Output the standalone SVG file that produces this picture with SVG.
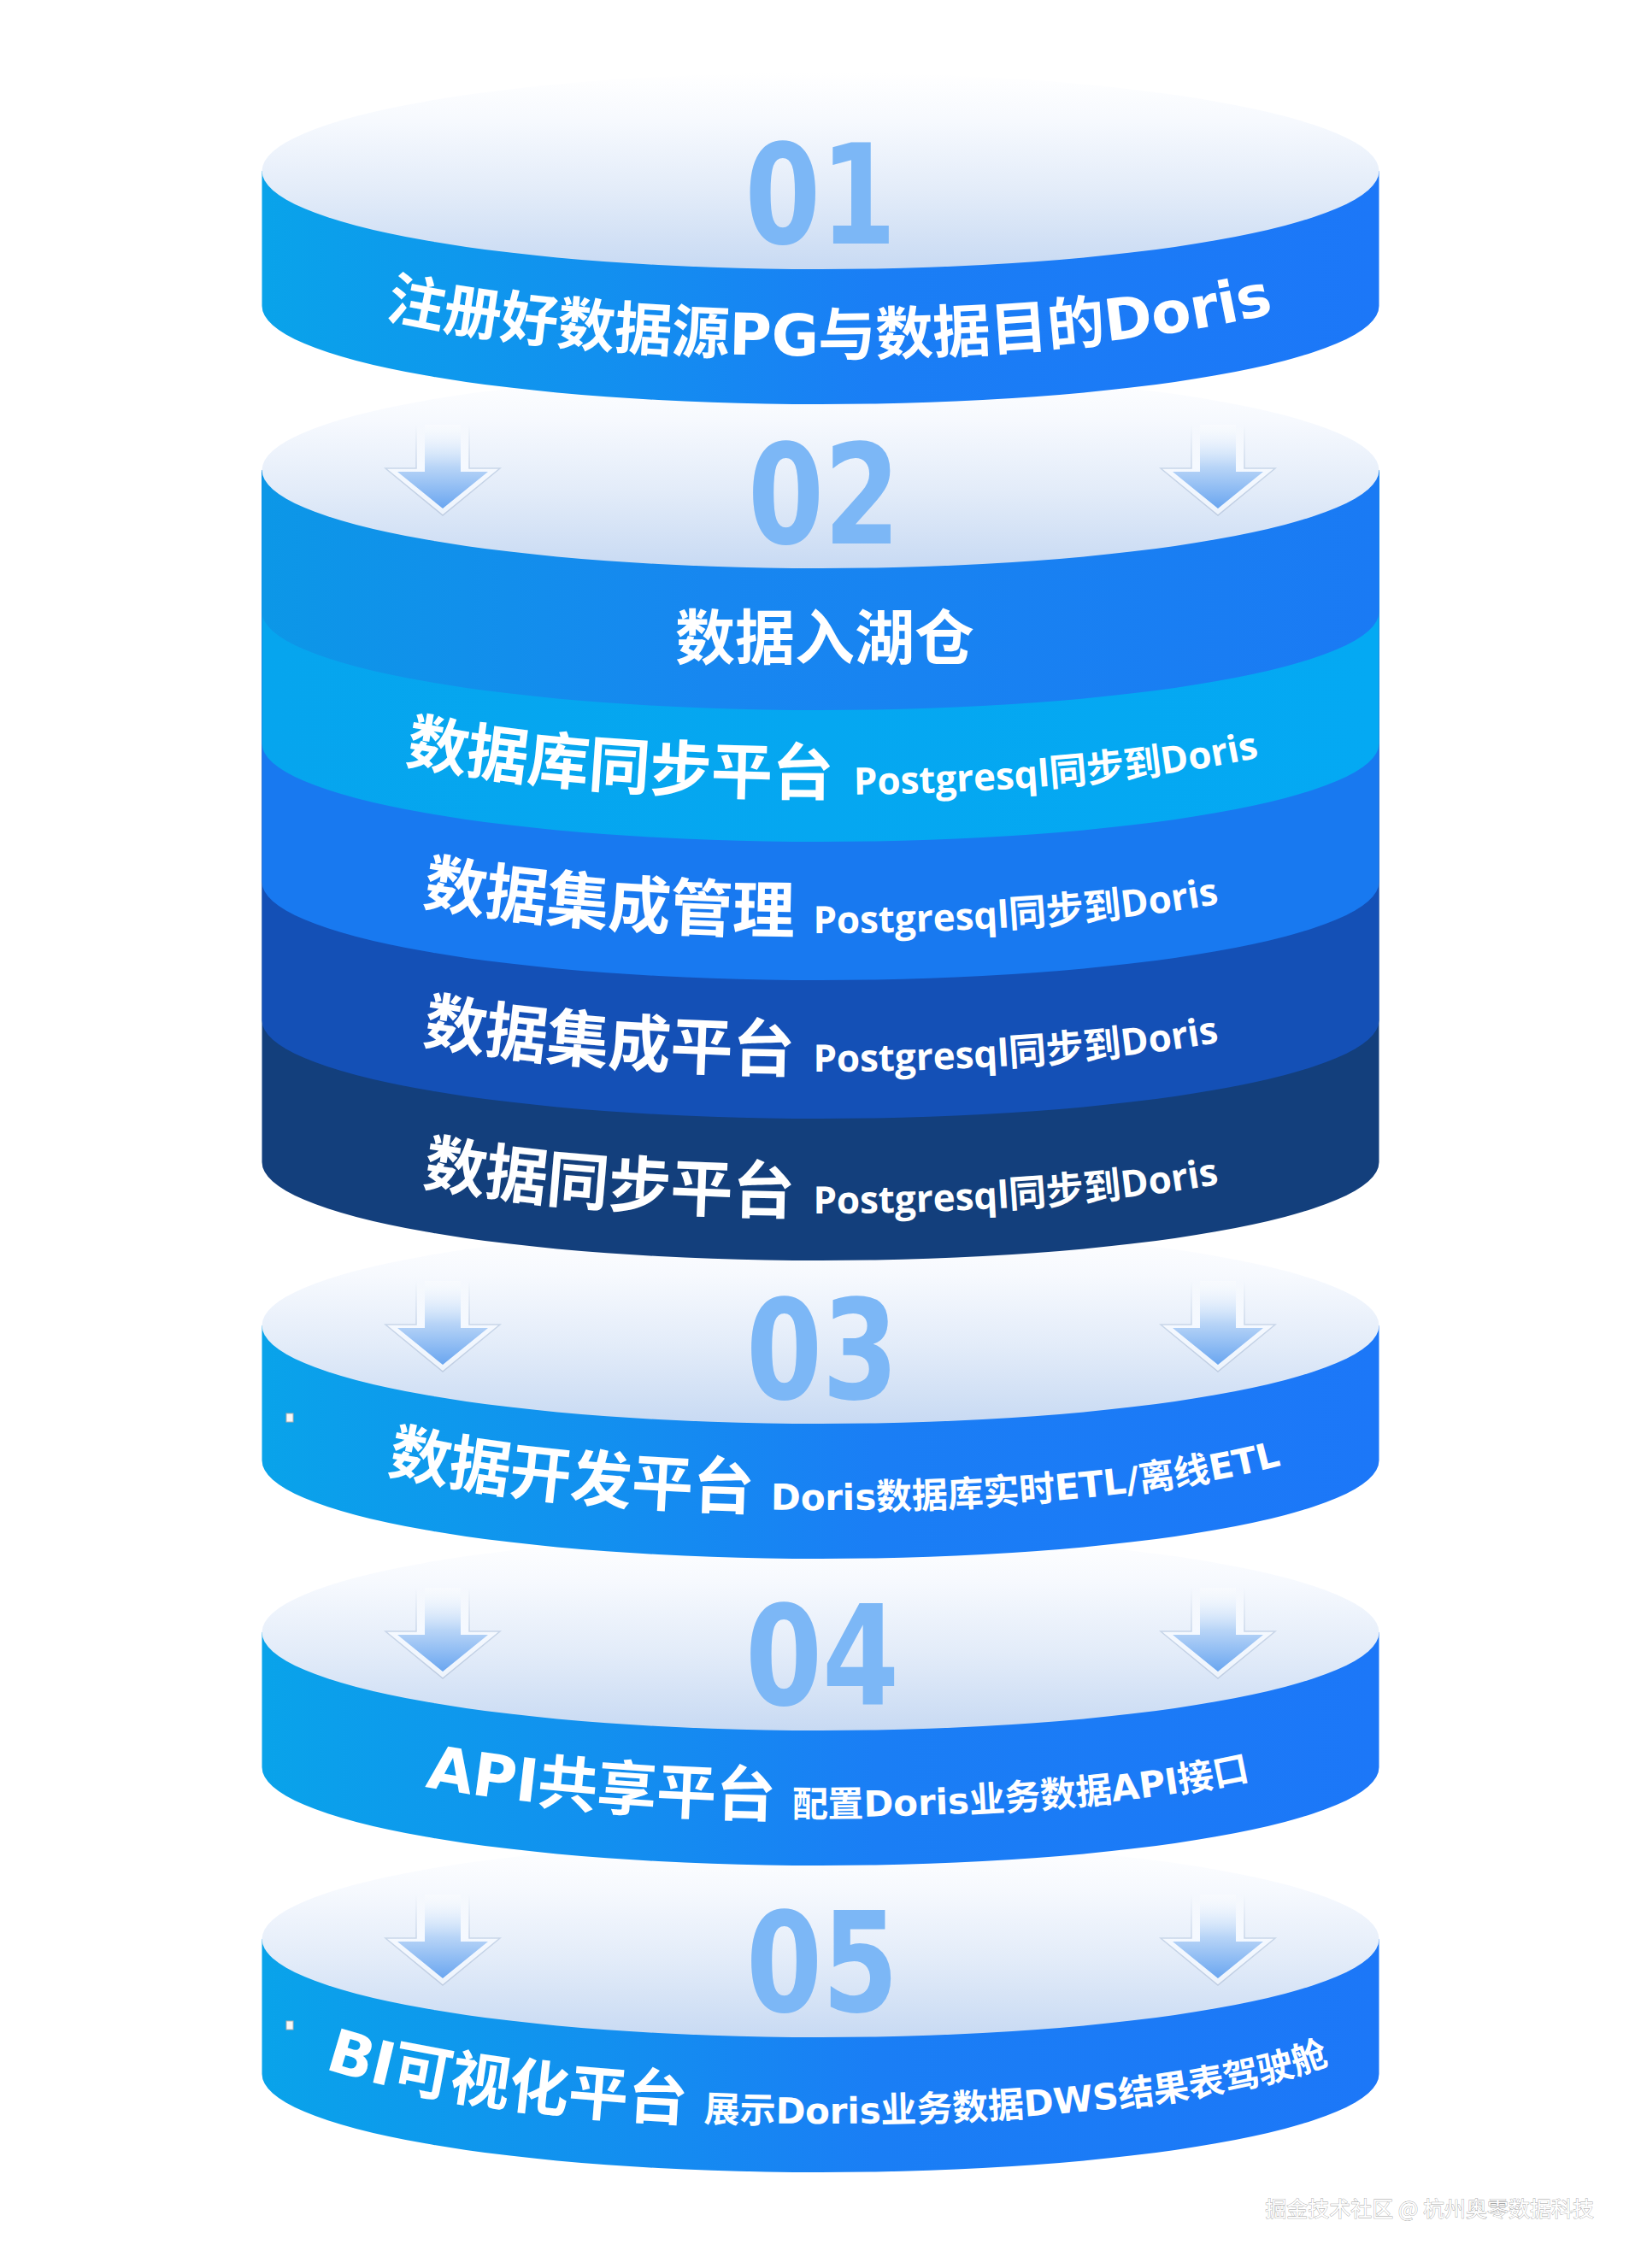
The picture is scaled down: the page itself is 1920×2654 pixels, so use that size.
<svg xmlns="http://www.w3.org/2000/svg" xmlns:xlink="http://www.w3.org/1999/xlink" width="1920" height="2654" viewBox="0 0 1920 2654">
<style>
.lbl{fill:#ffffff;font-weight:700;font-family:'DejaVu Sans','Noto Sans CJK SC',sans-serif;}
.band{fill:#ffffff;font-weight:700;font-family:'Open Sans','Noto Sans CJK SC',sans-serif;}
.cjk{font-family:'Noto Sans CJK SC',sans-serif;}
.num{fill:#7cb7f6;font-family:'DejaVu Sans Condensed','DejaVu Sans',sans-serif;font-weight:700;font-size:162px;}
.top{fill:url(#gTop);}
.side{fill:url(#gSide);}
.wm{fill:#ffffff;stroke:#a2a2a2;stroke-width:0.8;paint-order:stroke;font-family:'Noto Sans CJK SC',sans-serif;font-size:25px;}
</style>
<defs>
<linearGradient id="gSide" x1="0" y1="0" x2="1" y2="0">
<stop offset="0" stop-color="#09a3ea"/><stop offset="0.3" stop-color="#1290ef"/><stop offset="0.55" stop-color="#1a7ef5"/><stop offset="1" stop-color="#1c77f8"/>
</linearGradient>
<linearGradient id="gTop" x1="0" y1="0" x2="0" y2="1">
<stop offset="0" stop-color="#ffffff"/><stop offset="0.25" stop-color="#f6f9fe"/><stop offset="0.6" stop-color="#e3ecf9"/><stop offset="1" stop-color="#c8daf3"/>
</linearGradient>
<linearGradient id="gB1" x1="0" y1="0" x2="1" y2="0">
<stop offset="0" stop-color="#0c97e7"/><stop offset="0.4" stop-color="#1787f0"/><stop offset="1" stop-color="#1a7af4"/>
</linearGradient>
<linearGradient id="gB2" x1="0" y1="0" x2="1" y2="0">
<stop offset="0" stop-color="#06a5ee"/><stop offset="1" stop-color="#04a9f3"/>
</linearGradient>
<linearGradient id="gArrIn" x1="0" y1="0" x2="0" y2="1">
<stop offset="0" stop-color="#ffffff" stop-opacity="0.3"/><stop offset="0.5" stop-color="#b9d5f7"/><stop offset="1" stop-color="#6aa6f0"/>
</linearGradient>
<linearGradient id="gArrOut" x1="0" y1="0" x2="0" y2="1">
<stop offset="0" stop-color="#ffffff" stop-opacity="0"/><stop offset="0.45" stop-color="#f5f9ff"/><stop offset="1" stop-color="#eef4fc"/>
</linearGradient>
<linearGradient id="gArrStroke" x1="0" y1="0" x2="0" y2="1">
<stop offset="0" stop-color="#c7d5e8" stop-opacity="0"/><stop offset="0.5" stop-color="#c7d5e8"/><stop offset="1" stop-color="#bfcde2"/>
</linearGradient>
<g id="arrow">
<path d="M-31,-106 L31,-106 L31,-55 L67,-55 L0,0 L-67,-55 L-31,-55 Z" fill="url(#gArrOut)" stroke="url(#gArrStroke)" stroke-width="1.5"/>
<path d="M-21,-106 L21,-106 L21,-51 L53,-51 L0,-8 L-53,-51 L-21,-51 Z" fill="url(#gArrIn)"/>
</g>
<path id="p1" d="M306.5,296 A653.5,120 0 0 0 1613.5,296"/>
<path id="pb2" d="M306.5,815 A653.5,115 0 0 0 1613.5,815"/>
<path id="pb3" d="M306.5,977 A653.5,115 0 0 0 1613.5,977"/>
<path id="pb4" d="M306.5,1139 A653.5,115 0 0 0 1613.5,1139"/>
<path id="pb5" d="M306.5,1305 A653.5,115 0 0 0 1613.5,1305"/>
<path id="p3" d="M306.5,1647 A653.5,120 0 0 0 1613.5,1647"/>
<path id="p4" d="M306.5,2006 A653.5,120 0 0 0 1613.5,2006"/>
<path id="p5" d="M306.5,2365 A653.5,120 0 0 0 1613.5,2365"/>
</defs>
<rect width="1920" height="2654" fill="#ffffff"/>

<g id="node-05">
<path class="side" d="M306.5,2269 L306.5,2427 A653.5,115 0 0 0 1613.5,2427 L1613.5,2269 Z"/>
<ellipse class="top" cx="960" cy="2269" rx="653.5" ry="115"/>
<text class="num" x="962" y="2354" text-anchor="middle" textLength="178" lengthAdjust="spacingAndGlyphs">05</text>
<text class="lbl"><textPath href="#p5" startOffset="50.6%" text-anchor="middle"><tspan font-size="70">BI可视化平台</tspan><tspan font-size="42" dx="20">展示Doris业务数据DWS结果表驾驶舱</tspan></textPath></text>
<rect x="335" y="2365" width="8" height="10" fill="#f7f7f7" stroke="#b0b0b0" stroke-width="1"/>
</g>

<g id="node-04">
<path class="side" d="M306.5,1910 L306.5,2068 A653.5,115 0 0 0 1613.5,2068 L1613.5,1910 Z"/>
<ellipse class="top" cx="960" cy="1910" rx="653.5" ry="115"/>
<text class="num" x="962" y="1995" text-anchor="middle" textLength="180" lengthAdjust="spacingAndGlyphs">04</text>
<text class="lbl"><textPath href="#p4" startOffset="51.5%" text-anchor="middle"><tspan font-size="70">API共享平台</tspan><tspan font-size="42" dx="20">配置Doris业务数据API接口</tspan></textPath></text>
</g>

<g id="node-03">
<path class="side" d="M306.5,1551 L306.5,1709 A653.5,115 0 0 0 1613.5,1709 L1613.5,1551 Z"/>
<ellipse class="top" cx="960" cy="1551" rx="653.5" ry="115"/>
<text class="num" x="962" y="1637" text-anchor="middle" textLength="178" lengthAdjust="spacingAndGlyphs">03</text>
<text class="lbl"><textPath href="#p3" startOffset="51.2%" text-anchor="middle"><tspan font-size="72">数据开发平台</tspan><tspan font-size="42" dx="20">Doris数据库实时ETL/离线ETL</tspan></textPath></text>
<rect x="335" y="1654" width="8" height="10" fill="#f7f7f7" stroke="#b0b0b0" stroke-width="1"/>
</g>

<g id="node-02">
<path fill="#133f7c" d="M306.5,550 L306.5,1360 A653.5,115 0 0 0 1613.5,1360 L1613.5,550 Z"/>
<path fill="#1450b6" d="M306.5,550 L306.5,1194 A653.5,115 0 0 0 1613.5,1194 L1613.5,550 Z"/>
<path fill="#1879f0" d="M306.5,550 L306.5,1032 A653.5,115 0 0 0 1613.5,1032 L1613.5,550 Z"/>
<path fill="url(#gB2)" d="M306.5,550 L306.5,870 A653.5,115 0 0 0 1613.5,870 L1613.5,550 Z"/>
<path fill="url(#gB1)" d="M306.5,550 L306.5,716 A653.5,115 0 0 0 1613.5,716 L1613.5,550 Z"/>
<ellipse class="top" cx="960" cy="550" rx="653.5" ry="115"/>
<text class="num" x="964" y="636" text-anchor="middle" textLength="178" lengthAdjust="spacingAndGlyphs">02</text>
<text class="band cjk" x="965" y="772" font-size="70" text-anchor="middle">数据入湖仓</text>
<text class="band"><textPath href="#pb2" startOffset="51%" text-anchor="middle"><tspan font-size="72">数据库同步平台</tspan><tspan font-size="44" dx="24">Postgresql同步到Doris</tspan></textPath></text>
<text class="band"><textPath href="#pb3" startOffset="50%" text-anchor="middle"><tspan font-size="73">数据集成管理</tspan><tspan font-size="44" dx="22">Postgresql同步到Doris</tspan></textPath></text>
<text class="band"><textPath href="#pb4" startOffset="50%" text-anchor="middle"><tspan font-size="73">数据集成平台</tspan><tspan font-size="44" dx="22">Postgresql同步到Doris</tspan></textPath></text>
<text class="band"><textPath href="#pb5" startOffset="50%" text-anchor="middle"><tspan font-size="73">数据同步平台</tspan><tspan font-size="44" dx="22">Postgresql同步到Doris</tspan></textPath></text>
</g>

<g id="node-01">
<path class="side" d="M306.5,200 L306.5,358 A653.5,115 0 0 0 1613.5,358 L1613.5,200 Z"/>
<ellipse class="top" cx="960" cy="200" rx="653.5" ry="115"/>
<text class="num" x="960" y="285" text-anchor="middle" textLength="177" lengthAdjust="spacingAndGlyphs">01</text>
<text class="lbl"><textPath href="#p1" startOffset="50.8%" text-anchor="middle" font-size="67.5">注册好数据源PG与数据目的Doris</textPath></text>
</g>

<g id="connectors">
<use href="#arrow" x="518" y="603"/>
<use href="#arrow" x="1425" y="603"/>
<use href="#arrow" x="518" y="1605"/>
<use href="#arrow" x="1425" y="1605"/>
<use href="#arrow" x="518" y="1964"/>
<use href="#arrow" x="1425" y="1964"/>
<use href="#arrow" x="518" y="2323"/>
<use href="#arrow" x="1425" y="2323"/>
</g>

<text class="wm" x="1865" y="2594" text-anchor="end">掘金技术社区 @ 杭州奥零数据科技</text>
</svg>
